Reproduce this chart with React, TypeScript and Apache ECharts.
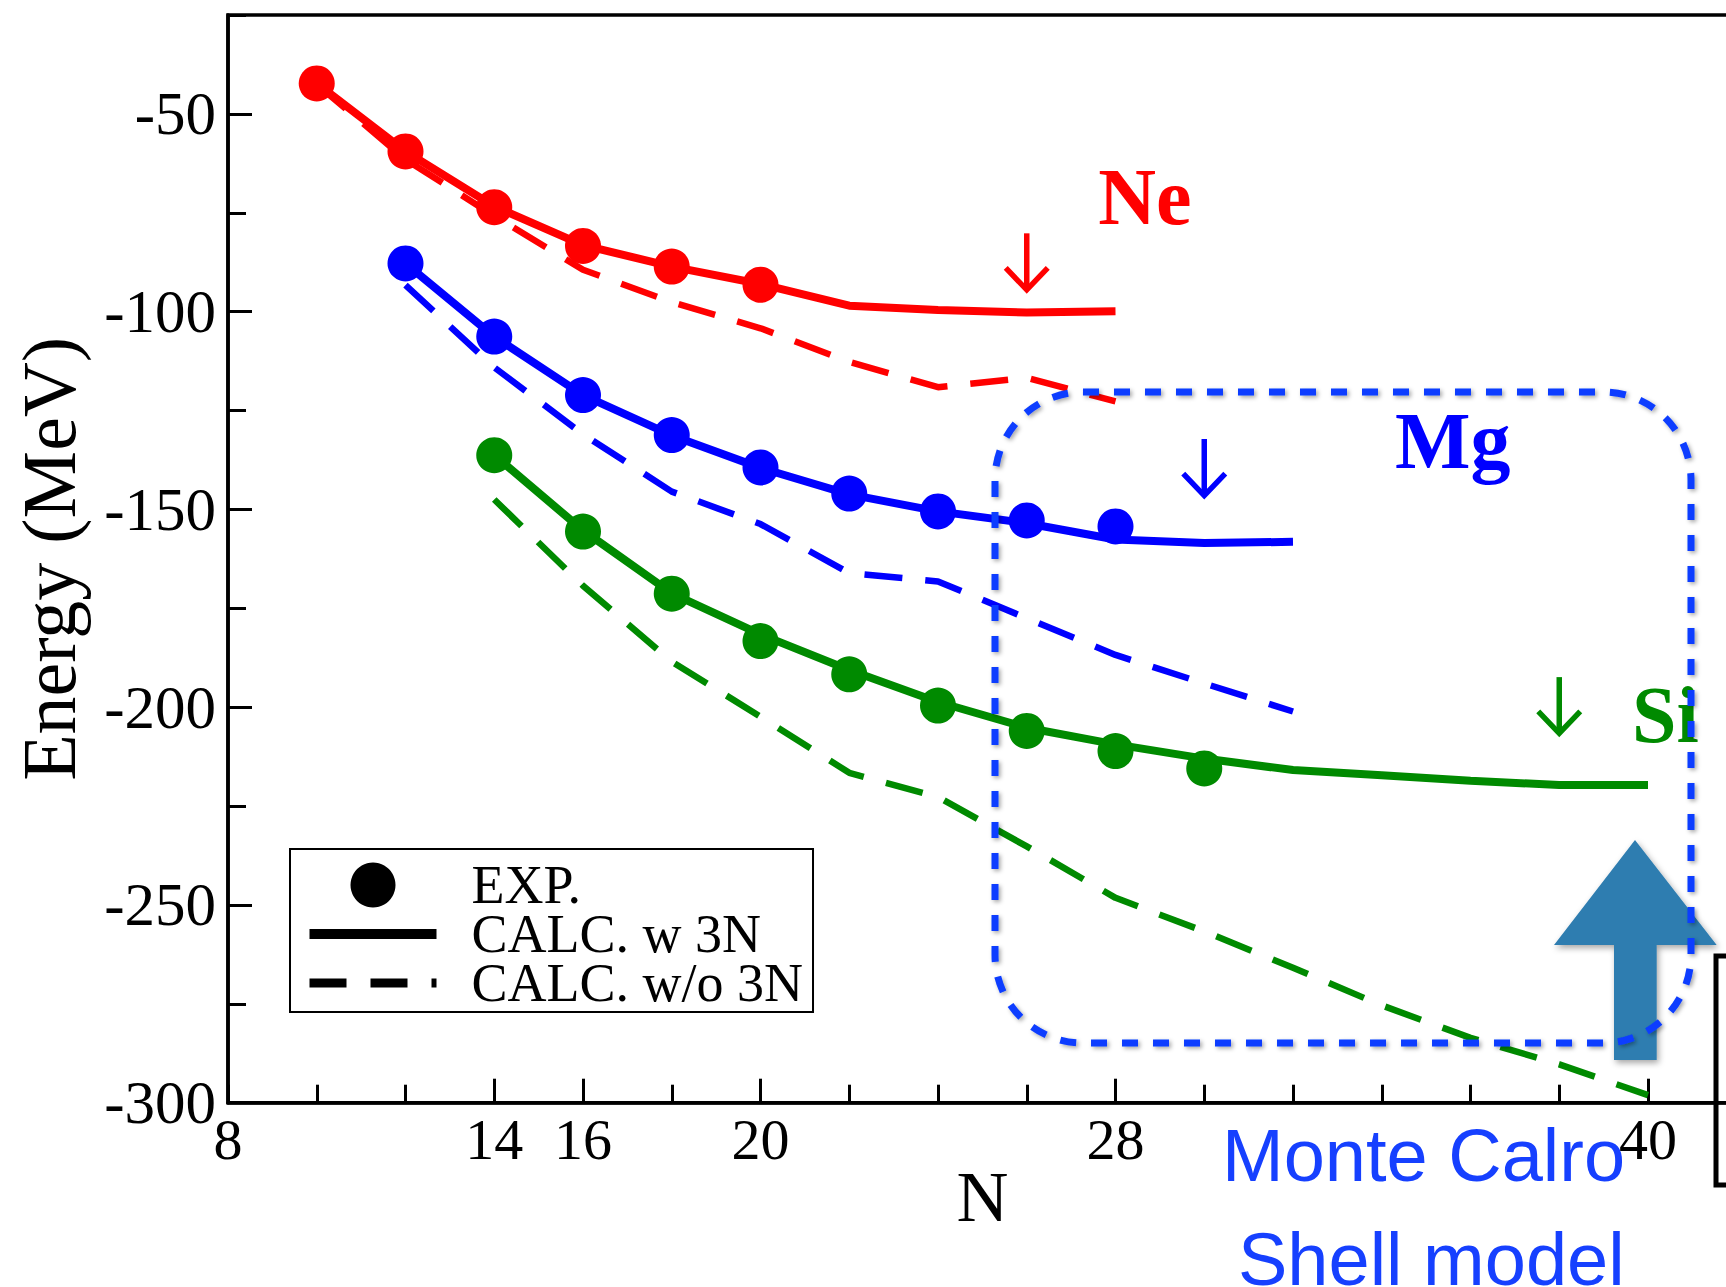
import React, { useEffect, useRef } from "react";
import * as echarts from "echarts";

// ---------- data ----------
const N_NE_EXP = [10, 12, 14, 16, 18, 20];
const NE_EXP = [-42.3, -59.5, -73.6, -83.4, -88.6, -93.2];
const N_NE_CALC = [10, 12, 14, 16, 18, 20, 22, 24, 26, 28];
const NE_W3N = [-42.3, -59.5, -73.4, -83.2, -88.6, -93.0, -98.5, -99.6, -100.2, -99.9];
const NE_WO3N = [-42.5, -61.5, -75.8, -89.4, -97.6, -104.2, -112.7, -119.1, -116.7, -122.7];

const N_MG_EXP = [12, 14, 16, 18, 20, 22, 24, 26, 28];
const MG_EXP = [-87.8, -106.3, -121.1, -131.2, -139.4, -146.0, -150.5, -152.8, -154.3];
const N_MG_CALC = [12, 14, 16, 18, 20, 22, 24, 26, 28, 30, 32];
const MG_W3N = [-87.8, -106.3, -121.1, -131.3, -139.5, -146.2, -150.5, -153.5, -157.6, -158.5, -158.2];
const MG_WO3N = [-93.3, -114.1, -131.0, -145.5, -153.7, -166.1, -168.2, -177.5, -186.8, -194.0, -201.1];

const N_SI_EXP = [14, 16, 18, 20, 22, 24, 26, 28, 30];
const SI_EXP = [-136.3, -155.6, -171.3, -183.3, -191.7, -199.6, -206.0, -211.1, -215.5];
const N_SI_CALC = [14, 16, 18, 20, 22, 24, 26, 28, 30, 32, 34, 36, 38, 40];
const SI_W3N = [-136.3, -155.3, -171.2, -181.6, -190.6, -198.7, -205.2, -209.4, -213.0, -215.9, -217.2, -218.6, -219.7, -219.7];
const SI_WO3N = [-147.5, -169.3, -188.5, -202.4, -216.6, -222.7, -235.2, -248.2, -256.7, -265.9, -275.4, -283.6, -290.3, -298.1];

// x tick labels / long ticks
const X_LABELS = [8, 14, 16, 20, 28, 40];
const X_LONG_TICKS = [14, 16, 20, 28, 40];

// element annotations (arrow top / tip energies and label anchor)
const ELEMENTS = ["Ne", "Mg", "Si"];
const ARROW_N = [26, 30, 38];
const ARROW_TOP = [-80.2, -132.2, -192.4];
const ARROW_TIP = [-94.5, -146.5, -206.6];
const LABEL_N = [27.61, 34.3, 39.64];
const LABEL_E = [-71.1, -132.6, -202.1];

const LEGEND_NAMES = ["EXP.", "CALC. w 3N", "CALC. w/o 3N"];

// ---------- styles ----------
const COLORS = ["#ff0000", "#0000ff", "#008a00"];
const SERIF = "Liberation Serif";
const SOLID_W = 8;
const DASH_W = 6.5;
const DASH = [38, 23];
const DOT = 36;

const pairs = (xs: number[], ys: number[]) => xs.map((x, i) => [x, ys[i]]);

export default function App() {
  const ref = useRef<HTMLDivElement>(null);

  useEffect(() => {
    if (!ref.current) return;
    const chart = echarts.init(ref.current, null, { renderer: "svg" });

    const groups = [
      { name: "Ne", nExp: N_NE_EXP, exp: NE_EXP, nCalc: N_NE_CALC, w: NE_W3N, wo: NE_WO3N },
      { name: "Mg", nExp: N_MG_EXP, exp: MG_EXP, nCalc: N_MG_CALC, w: MG_W3N, wo: MG_WO3N },
      { name: "Si", nExp: N_SI_EXP, exp: SI_EXP, nCalc: N_SI_CALC, w: SI_W3N, wo: SI_WO3N },
    ];

    const series: any[] = [];
    groups.forEach((g, gi) => {
      const c = COLORS[gi];
      series.push({
        name: g.name + " w/o 3N",
        type: "line",
        data: pairs(g.nCalc, g.wo),
        symbol: "none",
        lineStyle: { color: c, width: DASH_W, type: DASH, cap: "butt" },
        itemStyle: { color: c },
        z: 2,
        silent: true,
      });
    });
    groups.forEach((g, gi) => {
      const c = COLORS[gi];
      series.push({
        name: g.name + " w 3N",
        type: "line",
        data: pairs(g.nCalc, g.w),
        symbol: "none",
        lineStyle: { color: c, width: SOLID_W, type: "solid" },
        itemStyle: { color: c },
        z: 3,
        silent: true,
      });
    });
    groups.forEach((g, gi) => {
      const c = COLORS[gi];
      series.push({
        name: g.name + " EXP",
        type: "scatter",
        data: pairs(g.nExp, g.exp),
        symbol: "circle",
        symbolSize: DOT,
        itemStyle: { color: c, opacity: 1 },
        z: 4,
        silent: true,
      });
    });

    // legend-only series (black)
    series.push({
      name: LEGEND_NAMES[0],
      type: "scatter",
      data: [],
      symbol: "circle",
      itemStyle: { color: "#000", opacity: 1 },
    });
    series.push({
      name: LEGEND_NAMES[1],
      type: "line",
      data: [],
      symbol: "none",
      itemStyle: { color: "#000" },
      lineStyle: { color: "#000", width: 10 },
    });
    series.push({
      name: LEGEND_NAMES[2],
      type: "line",
      data: [],
      symbol: "none",
      itemStyle: { color: "#000" },
      lineStyle: { color: "#000", width: 9, type: [37, 24] },
    });

    // element arrows + labels
    series.push({
      type: "custom",
      name: "annotations",
      clip: false,
      silent: true,
      z: 5,
      data: ELEMENTS.map((_, i) => [ARROW_N[i], ARROW_TOP[i], ARROW_TIP[i], LABEL_N[i], LABEL_E[i]]),
      encode: { x: [0, 3], y: [1, 2, 4] },
      renderItem: (params: any, api: any) => {
        const i = params.dataIndex;
        const c = COLORS[i];
        const top = api.coord([api.value(0), api.value(1)]);
        const tip = api.coord([api.value(0), api.value(2)]);
        const lab = api.coord([api.value(3), api.value(4)]);
        return {
          type: "group",
          children: [
            {
              type: "line",
              shape: { x1: top[0], y1: top[1], x2: tip[0], y2: tip[1] - 2 },
              style: { stroke: c, lineWidth: 5.5 },
            },
            {
              type: "polyline",
              shape: {
                points: [
                  [tip[0] - 21, tip[1] - 22],
                  [tip[0], tip[1]],
                  [tip[0] + 21, tip[1] - 22],
                ],
              },
              style: { stroke: c, lineWidth: 5.5, fill: null, lineJoin: "miter" },
            },
            {
              type: "text",
              x: lab[0],
              y: lab[1],
              style: {
                text: ELEMENTS[i],
                fill: c,
                font: `bold 80px "${SERIF}"`,
                align: "left",
                verticalAlign: "middle",
                textAlign: "left",
                textVerticalAlign: "middle",
              },
            },
          ],
        };
      },
    });

    const axisLine = { show: true, lineStyle: { color: "#000", width: 3.5 } };
    const hiddenSymbol = { color: "rgba(0,0,0,0)", opacity: 0, borderWidth: 0 };

    const option: any = {
      animation: false,
      backgroundColor: "#ffffff",
      grid: {
        left: 228,
        top: 15,
        width: 1508.75,
        height: 1087.7,
        show: true,
        borderColor: "#000",
        borderWidth: 3.5,
        backgroundColor: "transparent",
      },
      legend: {
        data: [
          { name: LEGEND_NAMES[0] },
          { name: LEGEND_NAMES[1], itemStyle: hiddenSymbol },
          { name: LEGEND_NAMES[2], itemStyle: hiddenSymbol },
        ],
        orient: "vertical",
        left: 290,
        top: 849,
        padding: [9, 10, 2, 14.5],
        itemWidth: 127,
        itemHeight: 45,
        itemGap: -5,
        selectedMode: false,
        borderColor: "#000",
        borderWidth: 2,
        backgroundColor: "#fff",
        lineStyle: { width: "inherit", type: "inherit" },
        textStyle: {
          fontFamily: SERIF,
          fontSize: 54,
          lineHeight: 50,
          color: "#000",
          padding: [0, 0, 0, 30],
        },
      },
      xAxis: [
        {
          type: "value",
          position: "bottom",
          min: 8,
          max: 42,
          interval: 2,
          axisLine,
          axisTick: { show: true, inside: true, length: 18, lineStyle: { color: "#000", width: 3 } },
          axisLabel: { show: false },
          splitLine: { show: false },
          name: "N",
          nameLocation: "middle",
          nameGap: 58,
          nameTextStyle: { fontFamily: SERIF, fontSize: 72, color: "#000" },
        },
        {
          type: "value",
          position: "bottom",
          min: 8,
          max: 42,
          interval: 2,
          axisLine: { show: false },
          axisTick: {
            show: true,
            inside: true,
            length: 24,
            customValues: X_LONG_TICKS,
            lineStyle: { color: "#000", width: 3 },
          },
          axisLabel: {
            show: true,
            customValues: X_LABELS,
            fontFamily: SERIF,
            fontSize: 58,
            color: "#000",
            margin: 8,
          },
          splitLine: { show: false },
        },
      ],
      yAxis: [
        {
          type: "value",
          position: "left",
          min: -300,
          max: -25,
          interval: 50,
          axisLine,
          axisTick: { show: true, inside: true, length: 24, lineStyle: { color: "#000", width: 3 } },
          axisLabel: {
            show: true,
            fontFamily: SERIF,
            fontSize: 61,
            color: "#000",
            margin: 12,
            showMaxLabel: false,
          },
          splitLine: { show: false },
          name: "Energy (MeV)",
          nameLocation: "middle",
          nameRotate: 90,
          nameGap: 141,
          nameTextStyle: { fontFamily: SERIF, fontSize: 76, color: "#000" },
        },
        {
          type: "value",
          position: "left",
          min: -300,
          max: -25,
          interval: 25,
          axisLine: { show: false },
          axisTick: { show: true, inside: true, length: 18, lineStyle: { color: "#000", width: 3 } },
          axisLabel: { show: false },
          splitLine: { show: false },
        },
      ],
      series,
      graphic: [
        // slide overlay: big up arrow
        {
          type: "polygon",
          z: 100,
          silent: true,
          shape: {
            points: [
              [1635, 840],
              [1716.7, 945],
              [1656.7, 945],
              [1656.7, 1060],
              [1614, 1060],
              [1614, 945],
              [1554, 945],
            ],
          },
          style: {
            fill: "#2f7db0",
            shadowBlur: 6,
            shadowOffsetX: 2,
            shadowOffsetY: 3,
            shadowColor: "rgba(0,0,0,0.35)",
          },
        },
        // dotted rounded box
        {
          type: "rect",
          z: 101,
          silent: true,
          shape: { x: 995, y: 392, width: 696, height: 651, r: 88 },
          style: {
            fill: null,
            stroke: "#0a3dff",
            lineWidth: 7,
            lineDash: [16, 15],
            shadowBlur: 4,
            shadowOffsetX: 2,
            shadowOffsetY: 2,
            shadowColor: "rgba(0,0,0,0.35)",
          },
        },
        // partial black frame at right edge
        {
          type: "rect",
          z: 100,
          silent: true,
          shape: { x: 1716, y: 956, width: 120, height: 229 },
          style: { fill: null, stroke: "#000", lineWidth: 5 },
        },
        {
          type: "text",
          z: 102,
          silent: true,
          x: 1222,
          y: 1155.5,
          style: {
            text: "Monte Calro",
            fill: "#1640ff",
            font: '74px "Liberation Sans"',
            align: "left",
            verticalAlign: "middle",
          },
        },
        {
          type: "text",
          z: 102,
          silent: true,
          x: 1238,
          y: 1259.5,
          style: {
            text: "Shell model",
            fill: "#1640ff",
            font: '74px "Liberation Sans"',
            align: "left",
            verticalAlign: "middle",
          },
        },
      ],
    };

    chart.setOption(option);
    return () => chart.dispose();
  }, []);

  return (
    <div
      style={{
        position: "fixed",
        left: 0,
        top: 0,
        width: 1726,
        height: 1287,
        overflow: "hidden",
        background: "#fff",
      }}
    >
      <div ref={ref} style={{ width: 1800, height: 1287 }} />
    </div>
  );
}
